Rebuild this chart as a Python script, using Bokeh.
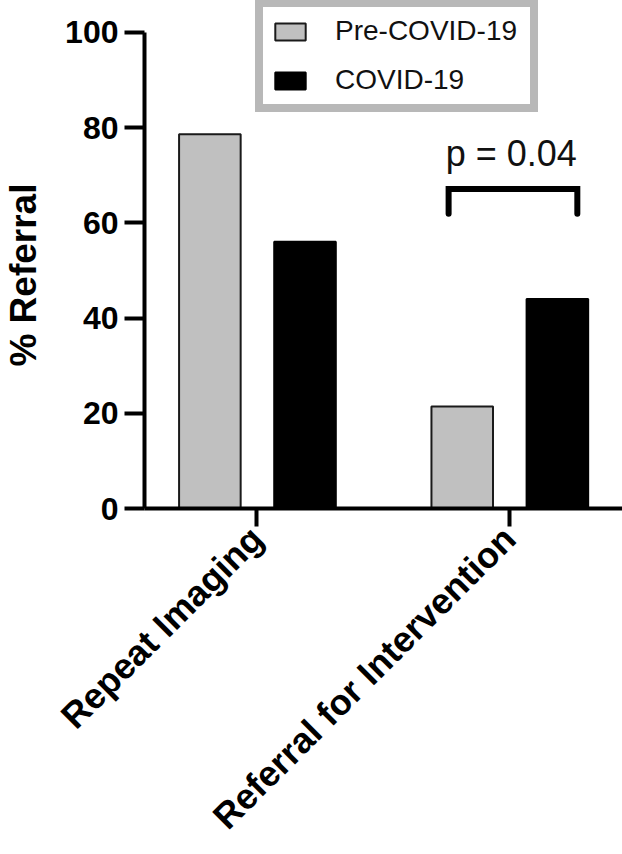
from math import pi

from bokeh.plotting import figure
from bokeh.models import (Range1d, FixedTicker, Legend, LegendItem, Label,
                          ColumnDataSource)
from bokeh.transform import dodge
from bokeh.embed import file_html
from bokeh.resources import INLINE

# ---------------- data ----------------
categories = ["Repeat Imaging", "Referral for Intervention"]
pre_covid = [78.6, 21.4]
covid = [56.0, 44.0]
series_names = ["Pre-COVID-19", "COVID-19"]
y_ticks = [0, 20, 40, 60, 80, 100]
y_label = "% Referral"
p_value_text = "p = 0.04"

x_pos = list(range(1, len(categories) + 1))

src = ColumnDataSource(dict(x=x_pos, pre=pre_covid, covid=covid))

FONT = "Liberation Sans"

p = figure(width=622, height=854, output_backend="svg", toolbar_location=None,
           x_range=Range1d(0.555, 2.449), y_range=Range1d(0, 106.67),
           min_border_left=141, min_border_right=0, min_border_top=0,
           min_border_bottom=342)

p.outline_line_color = None
p.grid.grid_line_color = None
p.background_fill_color = "white"
p.border_fill_color = "white"

r_pre = p.vbar(x=dodge("x", -0.186, range=p.x_range), top="pre", width=0.244,
               bottom=0, source=src, fill_color="#c0c0c0",
               line_color="#1a1a1a", line_width=2)
r_cov = p.vbar(x=dodge("x", 0.191, range=p.x_range), top="covid", width=0.244,
               bottom=0, source=src, fill_color="#000000",
               line_color="#000000", line_width=2)

# y axis
yax = p.yaxis[0]
yax.ticker = FixedTicker(ticks=y_ticks)
yax.bounds = (y_ticks[0], y_ticks[-1])
yax.axis_line_width = 4
yax.axis_line_color = "black"
yax.major_tick_line_width = 4
yax.major_tick_out = 20
yax.major_tick_in = 0
yax.minor_tick_line_color = None
yax.major_label_text_font = FONT
yax.major_label_text_font_style = "bold"
yax.major_label_text_font_size = "32px"
yax.major_label_text_color = "black"
yax.major_label_standoff = 6
yax.axis_label = y_label + "\u00a0\u00a0\u00a0\u00a0"
yax.axis_label_text_font = FONT
yax.axis_label_text_font_style = "bold"
yax.axis_label_text_font_size = "37px"
yax.axis_label_text_color = "black"
yax.axis_label_standoff = 18

# x axis
xax = p.xaxis[0]
xax.ticker = FixedTicker(ticks=x_pos)
xax.major_label_overrides = {x: c for x, c in zip(x_pos, categories)}
xax.axis_line_width = 4
xax.axis_line_color = "black"
xax.major_tick_line_width = 4
xax.major_tick_out = 18
xax.major_tick_in = 0
xax.minor_tick_line_color = None
xax.major_label_orientation = pi / 4
xax.major_label_text_font = FONT
xax.major_label_text_font_style = "bold"
xax.major_label_text_font_size = "36px"
xax.major_label_text_color = "black"
xax.major_label_standoff = 6

# significance bracket over second category
gx = x_pos[1]
bx0, bx1 = gx - 0.24, gx + 0.27
by_top, by_leg = 67.1, 61.9
p.line(x=[bx0, bx0, bx1, bx1], y=[by_leg, by_top, by_top, by_leg],
       line_color="black", line_width=6, line_join="miter", line_cap="round")
p.add_layout(Label(x=gx + 0.008, y=74.6, text=p_value_text,
                   text_align="center", text_baseline="alphabetic",
                   text_font=FONT, text_font_size="36px",
                   text_color="#111111"))

legend = Legend(items=[LegendItem(label=series_names[0], renderers=[r_pre]),
                       LegendItem(label=series_names[1], renderers=[r_cov])],
                location=(111, 396), orientation="vertical",
                label_text_font=FONT, label_text_font_size="28px",
                label_text_color="#111111",
                glyph_width=38, glyph_height=21, label_standoff=26,
                label_width=187, label_height=21,
                padding=8, spacing=17, margin=0,
                border_line_color="#acacac", border_line_width=8,
                border_line_alpha=0.85,
                background_fill_color="white", background_fill_alpha=1.0)
p.add_layout(legend, "center")

open("out.html", "w").write(file_html(p, INLINE))
